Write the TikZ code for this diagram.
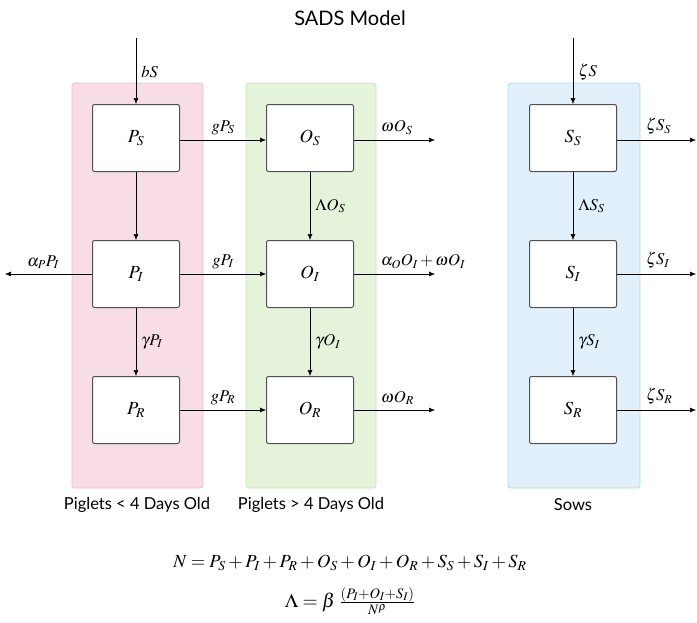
\documentclass[tikz,border=0pt]{standalone}
\usepackage{mathptmx}
\usepackage{fontspec}
\newfontfamily\latofont{Lato}
\usetikzlibrary{arrows.meta}
\definecolor{pinkfill}{HTML}{F9DDE6}
\definecolor{pinkline}{HTML}{F3B9CB}
\definecolor{greenfill}{HTML}{E4F3DA}
\definecolor{greenline}{HTML}{C6E4B0}
\definecolor{bluefill}{HTML}{E1F0FA}
\definecolor{blueline}{HTML}{B3D8F0}
\definecolor{boxgray}{HTML}{505050}
\tikzset{
  group/.style={rounded corners=3pt, line width=0.8pt},
  comp/.style={draw=boxgray, fill=white, line width=1pt, rounded corners=2pt,
    minimum width=87pt, minimum height=67pt, font=\fontsize{18.5}{21}\selectfont},
  flow/.style={-{Latex[length=6pt,width=5pt]}, line width=0.6pt},
  rate/.style={font=\fontsize{16.5}{19}\selectfont, inner sep=5pt},
  caption/.style={font=\latofont\fontsize{16.5}{19}\selectfont},
  eqn/.style={font=\fontsize{18.5}{22}\selectfont},
}
\begin{document}
\begin{tikzpicture}[x=1pt, y=-1pt]
  \useasboundingbox (0,0) rectangle (697,622);
  % Gruppen
  \draw[group, fill=pinkfill, draw=pinkline] (72,83) rectangle (203,488);
  \draw[group, fill=greenfill, draw=greenline] (246,83) rectangle (376,488);
  \draw[group, fill=bluefill, draw=blueline] (508,83) rectangle (640,488);
  \node[font=\latofont\fontsize{20}{24}\selectfont] (title) at (350,18) {SADS Model};
  % Kompartimente
  \node[comp] (PS) at (136,138) {$P_S$};
  \node[comp] (PI) at (136,274) {$P_I$};
  \node[comp] (PR) at (136,410) {$P_R$};
  \node[comp] (OS) at (310,138) {$O_S$};
  \node[comp] (OI) at (310,274) {$O_I$};
  \node[comp] (OR) at (310,410) {$O_R$};
  \node[comp] (SS) at (573,138) {$S_S$};
  \node[comp] (SI) at (573,274) {$S_I$};
  \node[comp] (SR) at (573,410) {$S_R$};
  % freie Enden
  \coordinate (bSin) at (136,38);
  \coordinate (zSin) at (573,38);
  \coordinate (Pout) at (5,274);
  \coordinate (OSout) at (435,140);
  \coordinate (OIout) at (435,274);
  \coordinate (ORout) at (435,410);
  \coordinate (SSout) at (696,140);
  \coordinate (SIout) at (696,274);
  \coordinate (SRout) at (696,410);
  % Zufluss
  \draw[flow] (bSin) -- (PS) node[rate, right, pos=0.52]{$bS$};
  \draw[flow] (zSin) -- (SS) node[rate, right, pos=0.52]{$\zeta S$};
  % Ferkel
  \draw[flow] (PS) -- (PI);
  \draw[flow] (PI) -- (PR) node[rate, right, midway]{$\gamma P_I$};
  \draw[flow] (PI.west) -- (Pout) node[rate, above, pos=0.56]{$\alpha_P P_I$};
  \draw[flow] (PS.east |- OSout) -- (OS.west |- OSout) node[rate, above, midway]{$gP_S$};
  \draw[flow] (PI) -- (OI) node[rate, above, midway]{$gP_I$};
  \draw[flow] (PR) -- (OR) node[rate, above, midway]{$gP_R$};
  % aeltere Ferkel
  \draw[flow] (OS) -- (OI) node[rate, right, midway]{$\Lambda O_S$};
  \draw[flow] (OI) -- (OR) node[rate, right, midway]{$\gamma O_I$};
  \draw[flow] (OS.east |- OSout) -- (OSout) node[rate, above right, pos=0.27]{$\omega O_S$};
  \draw[flow] (OI) -- (OIout) node[rate, above right, pos=0.27]{$\alpha_O O_I + \omega O_I$};
  \draw[flow] (OR) -- (ORout) node[rate, above right, pos=0.27]{$\omega O_R$};
  % Sauen
  \draw[flow] (SS) -- (SI) node[rate, right, midway]{$\Lambda S_S$};
  \draw[flow] (SI) -- (SR) node[rate, right, midway]{$\gamma S_I$};
  \draw[flow] (SS.east |- SSout) -- (SSout) node[rate, above right, pos=0.3]{$\zeta S_S$};
  \draw[flow] (SI) -- (SIout) node[rate, above right, pos=0.3]{$\zeta S_I$};
  \draw[flow] (SR) -- (SRout) node[rate, above right, pos=0.3]{$\zeta S_R$};
  % Beschriftung
  \node[caption] (capP) at (137,505) {Piglets < 4 Days Old};
  \node[caption] (capO) at (311,505) {Piglets > 4 Days Old};
  \node[caption] (capS) at (573,505) {Sows};
  \node[eqn] (eqN) at (350,563) {$N = P_S + P_I + P_R + O_S + O_I + O_R + S_S + S_I + S_R$};
  \node[eqn, font=\fontsize{19.5}{23}\selectfont] (eqL) at (350,601) {$\Lambda = \beta\;\frac{(P_I + O_I + S_I)}{N^\rho}$};
\end{tikzpicture}
\end{document}
